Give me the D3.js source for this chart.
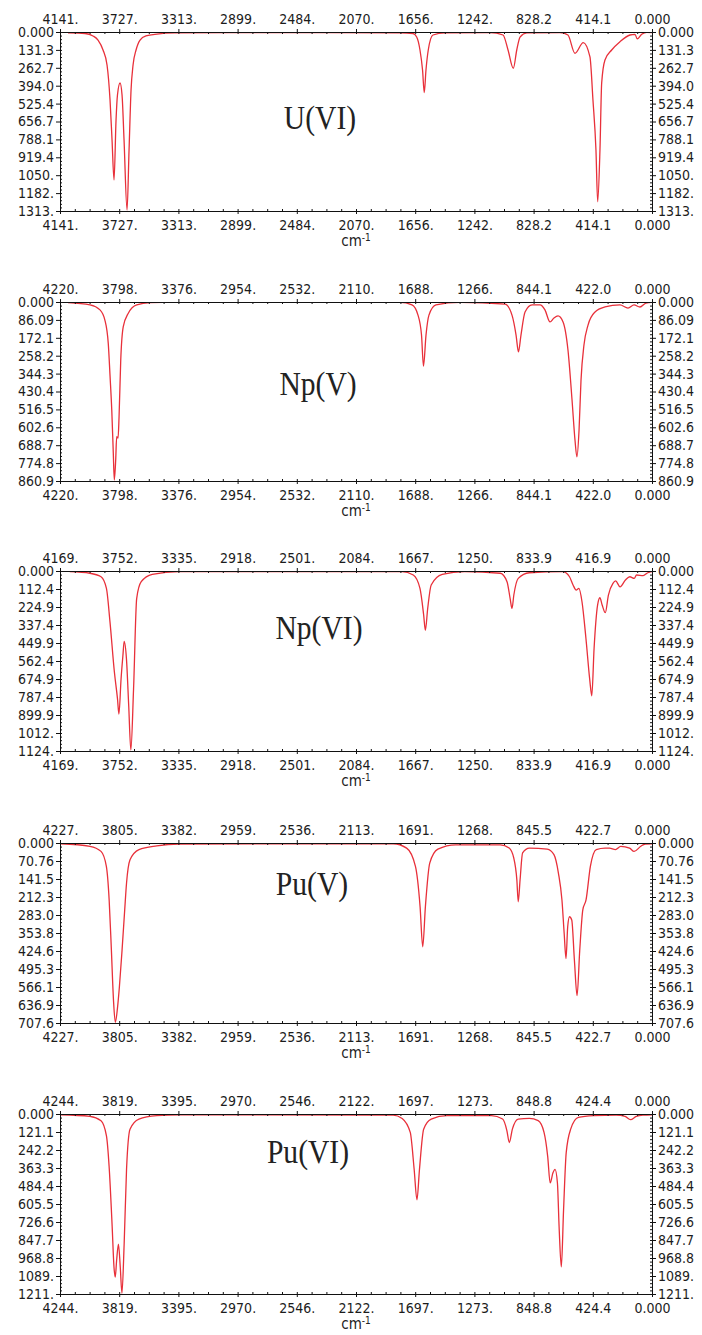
<!DOCTYPE html>
<meta charset="utf-8">
<style>
body { margin: 0; background: #fff; }
svg { display: block; }
.tick text { font: 14px "DejaVu Sans Condensed", "DejaVu Sans", sans-serif; fill: #1c1c1c; }
.axis path, .axis line { stroke: #111; }
.title { font: 34px "Liberation Serif", serif; fill: #222; }
.unit { font: 15px "Liberation Sans Narrow", "DejaVu Sans Condensed", sans-serif; fill: #222; }
</style>
<svg width="702" height="1335"></svg>
<script src="https://cdnjs.cloudflare.com/ajax/libs/d3/7.8.5/d3.min.js"></script>
<script>

// panel names and axis ranges (x runs from xMax down to 0)
var names = ["U(VI)", "Np(V)", "Np(VI)", "Pu(V)", "Pu(VI)"];
var xMax = [4141, 4220, 4169, 4227, 4244];
var yMax = [1313, 860.9, 1124, 707.6, 1211];

var xLabels = [
  ["4141.", "3727.", "3313.", "2899.", "2484.", "2070.", "1656.", "1242.", "828.2", "414.1", "0.000"],
  ["4220.", "3798.", "3376.", "2954.", "2532.", "2110.", "1688.", "1266.", "844.1", "422.0", "0.000"],
  ["4169.", "3752.", "3335.", "2918.", "2501.", "2084.", "1667.", "1250.", "833.9", "416.9", "0.000"],
  ["4227.", "3805.", "3382.", "2959.", "2536.", "2113.", "1691.", "1268.", "845.5", "422.7", "0.000"],
  ["4244.", "3819.", "3395.", "2970.", "2546.", "2122.", "1697.", "1273.", "848.8", "424.4", "0.000"]
];
var yLabels = [
  ["0.000", "131.3", "262.7", "394.0", "525.4", "656.7", "788.1", "919.4", "1050.", "1182.", "1313."],
  ["0.000", "86.09", "172.1", "258.2", "344.3", "430.4", "516.5", "602.6", "688.7", "774.8", "860.9"],
  ["0.000", "112.4", "224.9", "337.4", "449.9", "562.4", "674.9", "787.4", "899.9", "1012.", "1124."],
  ["0.000", "70.76", "141.5", "212.3", "283.0", "353.8", "424.6", "495.3", "566.1", "636.9", "707.6"],
  ["0.000", "121.1", "242.2", "363.3", "484.4", "605.5", "726.6", "847.7", "968.8", "1089.", "1211."]
];

// spectra, [wavenumber, intensity]
var uVI = [[4085,7],[3966,11],[3910,29],[3875,59],[3840,132],[3812,242],[3791,499],[3777,792],[3763,1086],[3749,645],[3739,462],[3721,374],[3707,462],[3693,792],[3672,1306],[3658,866],[3644,425],[3630,242],[3609,132],[3581,59],[3540,29],[3463,15],[3337,7],[2952,4],[2252,4],[1763,7],[1672,11],[1646,37],[1623,132],[1605,279],[1593,445],[1581,279],[1565,132],[1532,22],[1448,7],[1133,4],[1042,22],[1007,132],[970,266],[946,132],[923,37],[876,7],[644,4],[588,22],[539,156],[481,78],[434,183],[413,499],[392,866],[380,1245],[364,866],[352,374],[329,205],[282,132],[224,71],[154,22],[119,17],[103,51],[72,17],[37,2],[0,4]];

var npV = [[4163,3],[4006,14],[3935,38],[3900,87],[3876,199],[3863,359],[3851,519],[3840,728],[3833,856],[3823,760],[3816,648],[3806,654],[3799,552],[3787,279],[3769,119],[3733,54],[3673,14],[3578,3],[3486,2],[1796,2],[1711,14],[1668,63],[1643,159],[1629,308],[1611,159],[1590,63],[1540,14],[1369,2],[1048,10],[998,63],[969,159],[952,240],[934,159],[905,48],[855,14],[798,14],[763,38],[727,96],[699,77],[670,67],[634,96],[599,231],[570,471],[549,664],[535,745],[520,616],[506,375],[485,207],[456,111],[406,48],[335,24],[228,14],[171,29],[128,14],[86,24],[43,5],[0,2]];

var npVI = [[4100,4],[3958,14],[3880,36],[3842,109],[3817,318],[3786,631],[3764,799],[3754,893],[3739,674],[3726,528],[3717,440],[3701,549],[3685,843],[3670,1118],[3651,737],[3629,172],[3597,67],[3519,21],[3330,4],[1761,4],[1681,25],[1634,109],[1608,275],[1596,370],[1580,237],[1555,87],[1477,21],[1320,4],[1068,14],[1021,67],[999,172],[986,234],[973,150],[942,46],[864,11],[628,4],[581,36],[556,87],[534,119],[515,109],[493,192],[465,423],[439,674],[424,779],[408,486],[383,212],[367,167],[351,212],[329,260],[307,150],[275,77],[256,62],[225,99],[187,56],[156,36],[125,46],[109,25],[62,29],[30,11],[0,4]];

var puV = [[4221,3],[4013,13],[3934,33],[3896,92],[3876,224],[3860,422],[3845,619],[3832,705],[3816,645],[3803,566],[3784,422],[3765,263],[3752,158],[3727,66],[3663,26],[3536,11],[3377,4],[1848,3],[1752,20],[1689,92],[1656,250],[1637,408],[1618,250],[1587,79],[1529,24],[1402,7],[1083,7],[1020,20],[987,59],[965,145],[955,231],[942,145],[924,39],[876,20],[748,24],[700,46],[668,119],[643,224],[627,356],[614,454],[602,329],[589,290],[573,303],[554,461],[535,600],[516,422],[494,263],[471,224],[440,92],[398,26],[335,20],[303,20],[261,26],[223,13],[160,20],[128,33],[80,13],[49,4],[0,3]];

var puVI = [[4238,5],[4030,16],[3950,45],[3911,147],[3892,351],[3870,758],[3857,1029],[3848,1098],[3838,984],[3825,876],[3812,1029],[3800,1206],[3784,871],[3767,373],[3742,102],[3678,34],[3550,11],[3390,5],[1855,7],[1791,30],[1733,124],[1705,373],[1685,577],[1667,373],[1637,102],[1583,34],[1470,11],[1151,11],[1071,34],[1040,113],[1023,192],[1001,102],[959,34],[880,30],[816,45],[774,124],[748,283],[730,464],[710,396],[695,373],[678,464],[666,758],[650,1029],[634,645],[615,260],[583,102],[528,23],[417,11],[257,7],[193,16],[154,38],[113,16],[65,7],[0,5]];

var spectra = [uVI, npV, npVI, puV, puVI];

// layout
var left = 60, right = 652;
var tops = [32, 302, 571, 843, 1114];
var bottoms = [211, 481, 751, 1023, 1294];
var titlePos = [[320, 129], [318, 395], [319, 639], [312, 895], [308, 1163]];

var svg = d3.select("svg");

names.forEach(function(name, p) {
  var x = d3.scaleLinear().domain([xMax[p], 0]).range([left, right]);
  var y = d3.scaleLinear().domain([0, yMax[p]]).range([tops[p], bottoms[p]]);

  var xMajor = d3.range(11).map(function(i) { return xMax[p] * (10 - i) / 10; });
  var yMajor = d3.range(11).map(function(i) { return yMax[p] * i / 10; });
  var xMinor = d3.range(41).map(function(i) { return xMax[p] * (40 - i) / 40; });
  var yMinor = d3.range(51).map(function(i) { return yMax[p] * i / 50; });

  var g = svg.append("g");

  g.append("clipPath").attr("id", "clip" + p)
    .append("rect")
      .attr("x", left).attr("y", tops[p])
      .attr("width", right - left).attr("height", bottoms[p] - tops[p]);

  g.append("path")
      .datum(spectra[p])
      .attr("clip-path", "url(#clip" + p + ")")
      .attr("fill", "none")
      .attr("stroke", "#e8303a")
      .attr("stroke-width", 1.3)
      .attr("d", d3.line()
        .x(function(d) { return x(d[0]); })
        .y(function(d) { return y(d[1]); })
        .curve(d3.curveMonotoneX));

  // minor ticks, pointing inwards
  g.append("g").attr("class", "axis").attr("transform", "translate(0," + tops[p] + ")")
      .call(d3.axisTop(x).tickValues(xMinor).tickSize(-2).tickFormat(""));
  g.append("g").attr("class", "axis").attr("transform", "translate(0," + bottoms[p] + ")")
      .call(d3.axisBottom(x).tickValues(xMinor).tickSize(-2).tickFormat(""));
  g.append("g").attr("class", "axis").attr("transform", "translate(" + left + ",0)")
      .call(d3.axisLeft(y).tickValues(yMinor).tickSize(-2).tickFormat(""));
  g.append("g").attr("class", "axis").attr("transform", "translate(" + right + ",0)")
      .call(d3.axisRight(y).tickValues(yMinor).tickSize(-2).tickFormat(""));

  // major ticks with labels
  g.append("g").attr("class", "axis").attr("transform", "translate(0," + tops[p] + ")")
      .call(d3.axisTop(x).tickValues(xMajor).tickSize(3).tickSizeOuter(0).tickPadding(5)
        .tickFormat(function(d, i) { return xLabels[p][i]; }));
  g.append("g").attr("class", "axis").attr("transform", "translate(0," + bottoms[p] + ")")
      .call(d3.axisBottom(x).tickValues(xMajor).tickSize(3).tickSizeOuter(0).tickPadding(6)
        .tickFormat(function(d, i) { return xLabels[p][i]; }));
  g.append("g").attr("class", "axis").attr("transform", "translate(" + left + ",0)")
      .call(d3.axisLeft(y).tickValues(yMajor).tickSize(4).tickSizeOuter(0).tickPadding(2)
        .tickFormat(function(d, i) { return yLabels[p][i]; }));
  g.append("g").attr("class", "axis").attr("transform", "translate(" + right + ",0)")
      .call(d3.axisRight(y).tickValues(yMajor).tickSize(4).tickSizeOuter(0).tickPadding(2)
        .tickFormat(function(d, i) { return yLabels[p][i]; }));

  g.selectAll(".axis .domain").attr("stroke", "#111");

  // panel title, a little narrowed like the original
  g.append("text")
      .attr("class", "title")
      .attr("text-anchor", "middle")
      .attr("transform", "translate(" + titlePos[p][0] + "," + titlePos[p][1] + ") scale(0.87,1)")
      .text(name);

  var unit = g.append("text")
      .attr("class", "unit")
      .attr("x", (left + right) / 2)
      .attr("y", bottoms[p] + 35)
      .attr("text-anchor", "middle");
  unit.append("tspan").text("cm");
  unit.append("tspan").attr("dy", -5).attr("font-size", 10).text("-1");
});

</script>
